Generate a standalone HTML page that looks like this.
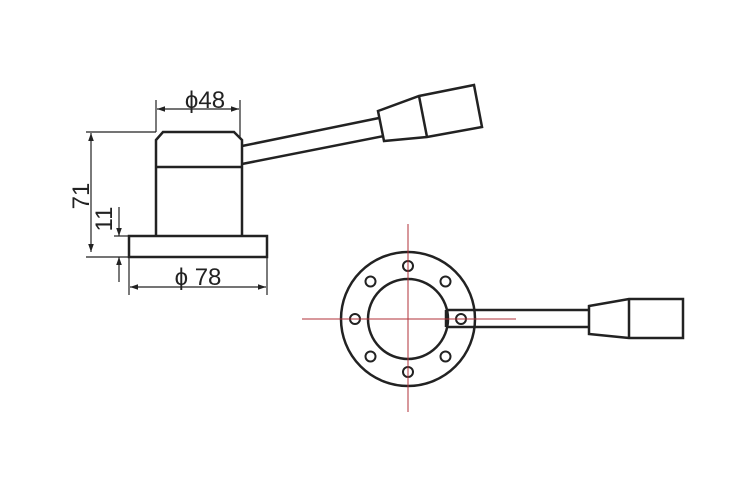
<!DOCTYPE html>
<html><head><meta charset="utf-8"><style>
html,body{margin:0;padding:0;background:#fff;}
svg{display:block;}
text{font-family:"Liberation Sans",Arial,sans-serif;fill:#222;}
</style></head><body>
<svg width="756" height="498" viewBox="0 0 756 498" xmlns="http://www.w3.org/2000/svg">
<defs>
<marker id="a" viewBox="0 0 10 10" refX="10" refY="5" markerWidth="10" markerHeight="8" orient="auto-start-reverse" markerUnits="userSpaceOnUse"><path d="M0,1.5 L10,5 L0,8.5 Z" fill="#222"/></marker>
</defs>
<g fill="none" stroke="#222" stroke-width="2.5" stroke-linejoin="miter">
<path d="M156,236 L156,140 L163,132 L234,132 L242,140 L242,236"/>
<line x1="156" y1="167" x2="242" y2="167"/>
<rect x="129" y="236" width="138" height="21"/>
<line x1="242" y1="146" x2="379" y2="118"/>
<line x1="242" y1="164" x2="384" y2="136"/>
<path d="M378,111 L419,96 L474,85 L482,127 L427,137 L384,141 Z"/>
<line x1="419" y1="96" x2="427" y2="137"/>
<circle cx="408" cy="319" r="67"/>
<circle cx="408" cy="319" r="40"/>
<path d="M446,310 L589,310 M446,327 L589,327 M446,310 L446,327"/>
<path d="M589,306 L629,299 L683,299 L683,338 L629,338 L589,334 Z"/>
<line x1="629" y1="299" x2="629" y2="338"/>
<g stroke-width="2">
<circle cx="408" cy="266" r="5"/>
<circle cx="408" cy="372" r="5"/>
<circle cx="355" cy="319" r="5"/>
<circle cx="461" cy="319" r="5"/>
<circle cx="370.5" cy="281.5" r="5"/>
<circle cx="445.5" cy="281.5" r="5"/>
<circle cx="370.5" cy="356.5" r="5"/>
<circle cx="445.5" cy="356.5" r="5"/>
</g>
</g>
<g stroke="#b0323a" stroke-width="1">
<line x1="302" y1="319" x2="516" y2="319"/>
<line x1="408" y1="224" x2="408" y2="412"/>
</g>
<g stroke="#222" stroke-width="1.2" fill="none">
<line x1="156" y1="100" x2="156" y2="132"/>
<line x1="240" y1="100" x2="240" y2="138"/>
<line x1="157" y1="109" x2="239" y2="109" marker-start="url(#a)" marker-end="url(#a)"/>
<line x1="86" y1="132" x2="156" y2="132"/>
<line x1="86" y1="257" x2="129" y2="257"/>
<line x1="91" y1="133" x2="91" y2="252" marker-start="url(#a)" marker-end="url(#a)"/>
<line x1="114" y1="236" x2="129" y2="236"/>
<line x1="119" y1="207" x2="119" y2="236" marker-end="url(#a)"/>
<line x1="119" y1="282" x2="119" y2="257" marker-end="url(#a)"/>
<line x1="129" y1="257" x2="129" y2="295"/>
<line x1="267" y1="257" x2="267" y2="295"/>
<line x1="130" y1="287" x2="266" y2="287" marker-start="url(#a)" marker-end="url(#a)"/>
</g>
<text x="205" y="108" font-size="24" text-anchor="middle">ϕ48</text>
<text x="198" y="285" font-size="24" text-anchor="middle">ϕ 78</text>
<text transform="translate(89,196) rotate(-90)" font-size="24" text-anchor="middle">71</text>
<text transform="translate(112,219) rotate(-90)" font-size="24" text-anchor="middle">11</text>
</svg>
</body></html>
